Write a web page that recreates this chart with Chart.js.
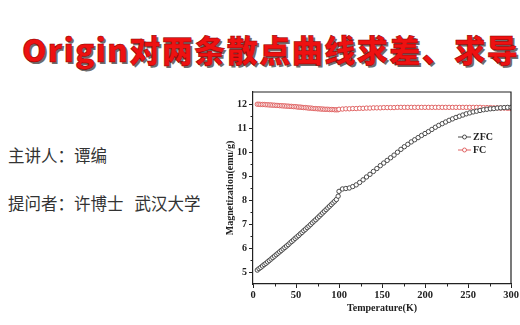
<!DOCTYPE html>
<html lang="zh">
<head>
<meta charset="UTF-8">
<title>ZFC / FC 磁化曲线</title>
<script src="https://cdn.jsdelivr.net/npm/chart.js"></script>
<style>
  body { margin: 0; width: 520px; height: 325px; background: #fff; position: relative; overflow: hidden; font-family: "Noto Sans CJK SC", sans-serif; }
  .title { position: absolute; left: 22px; top: 33px; font-size: 31px; line-height: 31px; font-weight: 900; color: #ee1111; letter-spacing: 1.5px; white-space: nowrap; -webkit-text-stroke: 0.5px #8a0000; text-shadow: 2px 2px 0 #6d6d6d; }
  .info { position: absolute; left: 8px; font-size: 16.5px; line-height: 18px; color: #333; white-space: pre; }
  .colon { font-family: "Noto Sans CJK TC", sans-serif; }
  #wrap { position: absolute; left: 200px; top: 80px; width: 320px; height: 245px; }
</style>
</head>
<body>
<div class="title">Origin对两条散点曲线求差、求导</div>
<div class="info" style="top:146px">主讲人<span class="colon">：</span>谭编</div>
<div class="info" style="top:194px">提问者<span class="colon">：</span>许博士<span style="margin-left:11px">武汉大学</span></div>
<div id="wrap"><canvas id="chart" width="320" height="245"></canvas></div>

<script>
// temperature (K), same points for both curves
const temperature = [5,7,9,11,13,15,17,19,21,23,25,27,29,31,33,35,37,39,41,43,45,47,49,51,53,55,57,59,61,63,65,67,69,71,73,75,77,79,81,83,85,87,89,91,93,95,97,99,
  100,104,108,112,116,120,124,128,132,136,140,144,148,152,156,160,164,168,172,176,180,184,188,192,196,200,204,208,212,216,220,224,228,232,236,240,244,248,252,256,260,264,268,272,276,280,284,288,292,296,300];

// magnetization (emu/g)
const zfc = [5.08,5.14,5.19,5.25,5.31,5.36,5.42,5.48,5.54,5.60,5.66,5.72,5.78,5.84,5.90,5.96,6.02,6.08,6.14,6.21,6.27,6.33,6.40,6.46,6.52,6.59,6.65,6.72,6.78,6.85,6.91,6.98,7.05,7.12,7.18,7.25,7.32,7.39,7.46,7.53,7.60,7.67,7.74,7.81,7.88,7.95,8.02,8.16,
  8.36,8.46,8.48,8.50,8.56,8.63,8.73,8.84,8.96,9.07,9.19,9.31,9.43,9.54,9.65,9.76,9.87,9.99,10.11,10.22,10.32,10.42,10.51,10.60,10.69,10.77,10.85,10.94,11.03,11.11,11.18,11.25,11.32,11.38,11.44,11.49,11.54,11.59,11.63,11.67,11.70,11.73,11.76,11.78,11.80,11.81,11.83,11.84,11.85,11.86,11.86];

const fc = [11.99,11.99,11.98,11.98,11.98,11.97,11.97,11.96,11.96,11.95,11.95,11.94,11.94,11.93,11.93,11.92,11.92,11.91,11.91,11.90,11.90,11.89,11.89,11.88,11.87,11.87,11.86,11.85,11.85,11.84,11.83,11.83,11.82,11.81,11.81,11.80,11.80,11.79,11.79,11.78,11.78,11.78,11.77,11.77,11.77,11.76,11.76,11.76,
  11.78,11.79,11.80,11.80,11.81,11.81,11.82,11.82,11.83,11.83,11.84,11.84,11.84,11.85,11.85,11.85,11.85,11.86,11.86,11.86,11.86,11.86,11.86,11.86,11.86,11.86,11.86,11.86,11.86,11.86,11.86,11.86,11.86,11.86,11.86,11.86,11.86,11.86,11.86,11.86,11.86,11.86,11.85,11.85,11.85,11.84,11.84,11.83,11.83,11.82,11.81];

const seriesNames = ['ZFC', 'FC'];
const seriesColors = ['#4a4a4a', '#e06464'];

const xTicks = [0, 50, 100, 150, 200, 250, 300];
const xMinor = [25, 75, 125, 175, 225, 275];
const yTicks = [5, 6, 7, 8, 9, 10, 11, 12];
const yMinor = [5.5, 6.5, 7.5, 8.5, 9.5, 10.5, 11.5];

const xTitle = 'Temperature(K)';
const yTitle = 'Magnetization(emu/g)';

const axisColor = '#222';
const serif = 'bold 10px "Liberation Serif", "Times New Roman", serif';

function points(ys) {
  return temperature.map((t, i) => ({ x: t, y: ys[i] }));
}

// box, minor ticks, axis titles and the small legend inside the plot
const extras = {
  id: 'extras',
  afterDraw(chart) {
    const c = chart.ctx;
    const a = chart.chartArea;
    const xs = chart.scales.x, ys = chart.scales.y;
    c.save();
    c.strokeStyle = axisColor;
    c.lineWidth = 1.2;
    c.beginPath();
    c.moveTo(a.left, a.top); c.lineTo(a.right, a.top); c.lineTo(a.right, a.bottom);
    c.stroke();

    c.lineWidth = 1;
    c.beginPath();
    xMinor.forEach(v => {
      const px = Math.round(xs.getPixelForValue(v)) + 0.5;
      c.moveTo(px, a.bottom); c.lineTo(px, a.bottom + 2.5);
    });
    yMinor.forEach(v => {
      const py = Math.round(ys.getPixelForValue(v)) + 0.5;
      c.moveTo(a.left, py); c.lineTo(a.left - 2.5, py);
    });
    c.stroke();

    c.fillStyle = axisColor;
    c.font = serif;
    c.textAlign = 'center';
    c.textBaseline = 'middle';
    c.fillText(xTitle, (a.left + a.right) / 2, a.bottom + 24);
    c.save();
    c.translate(a.left - 23, (a.top + a.bottom) / 2);
    c.rotate(-Math.PI / 2);
    c.fillText(yTitle, 0, 0);
    c.restore();

    // legend
    seriesNames.forEach((name, i) => {
      const y = a.top + 45 + i * 13;
      const x0 = a.left + 205;
      c.strokeStyle = seriesColors[i];
      c.lineWidth = 1;
      c.beginPath(); c.moveTo(x0, y); c.lineTo(x0 + 13, y); c.stroke();
      c.fillStyle = '#fff';
      c.beginPath(); c.arc(x0 + 6.5, y, 2, 0, Math.PI * 2); c.fill(); c.stroke();
      c.fillStyle = axisColor;
      c.textAlign = 'left';
      c.fillText(name, x0 + 15, y + 0.5);
    });
    c.restore();
  }
};

const ctx = document.getElementById('chart').getContext('2d');
new Chart(ctx, {
  type: 'scatter',
  data: {
    datasets: [zfc, fc].map((ys, i) => ({
      label: seriesNames[i],
      data: points(ys),
      showLine: true,
      borderColor: seriesColors[i],
      borderWidth: 1,
      pointRadius: 2.2,
      pointBorderWidth: 1,
      pointBackgroundColor: '#fff',
      pointBorderColor: seriesColors[i]
    }))
  },
  options: {
    responsive: false,
    animation: false,
    events: [],
    layout: { padding: { top: 12, right: 9, left: 0, bottom: 0 } },
    plugins: { legend: { display: false }, tooltip: { enabled: false } },
    scales: {
      x: {
        type: 'linear', min: 0, max: 300,
        afterBuildTicks: s => { s.ticks = xTicks.map(v => ({ value: v })); },
        afterFit: s => { s.height = 41; },
        ticks: { color: axisColor, font: { family: '"Liberation Serif", serif', weight: 'bold', size: 10.5 }, padding: 1, maxRotation: 0 },
        grid: { drawOnChartArea: false, tickLength: 4, tickColor: axisColor },
        border: { color: axisColor, width: 1.2 }
      },
      y: {
        type: 'linear', min: 4.5, max: 12.5,
        afterBuildTicks: s => { s.ticks = yTicks.map(v => ({ value: v })); },
        afterFit: s => { s.width = 53; },
        ticks: { color: axisColor, font: { family: '"Liberation Serif", serif', weight: 'bold', size: 10 }, padding: 2 },
        grid: { drawOnChartArea: false, tickLength: 4, tickColor: axisColor },
        border: { color: axisColor, width: 1.2 }
      }
    }
  },
  plugins: [extras]
});
</script>
</body>
</html>
